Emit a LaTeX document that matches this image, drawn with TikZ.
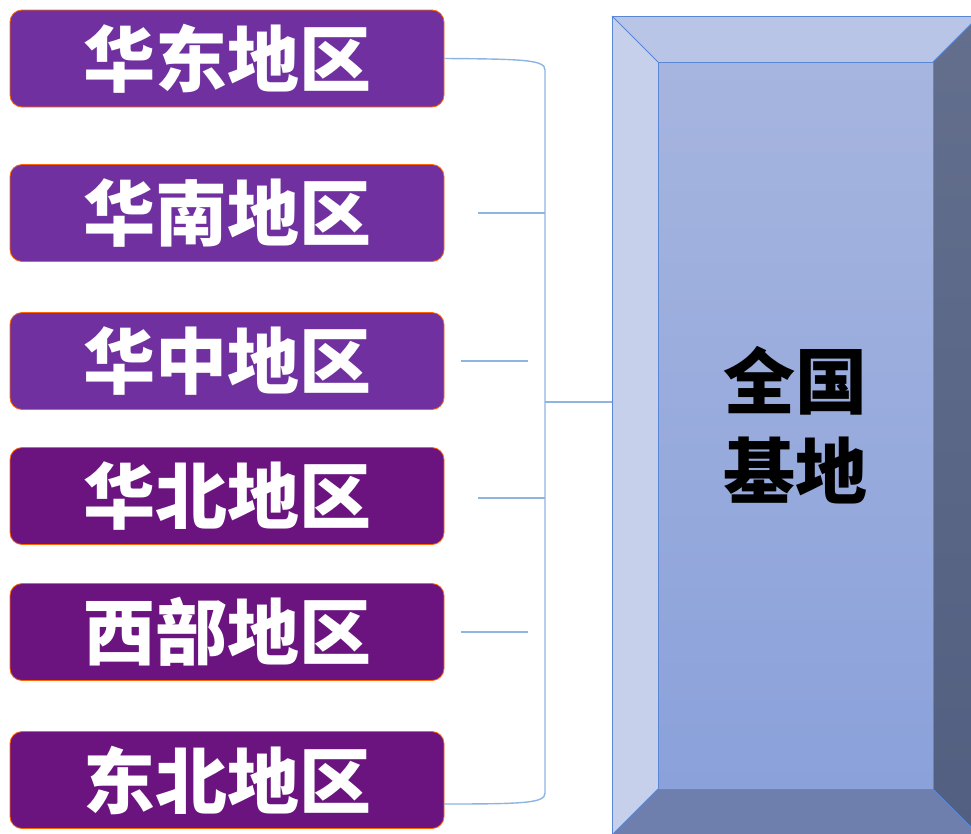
\documentclass[tikz,border=0pt]{standalone}
\usepackage{fontspec}
\newfontfamily\cjk{Noto Sans CJK SC}
\usepackage{tikz}
\usetikzlibrary{positioning}
\definecolor{purpleA}{HTML}{7030A0}
\definecolor{purpleB}{HTML}{6B1480}
\definecolor{linkblue}{HTML}{8DB4E2}
\definecolor{edgeblue}{HTML}{5A86D6}

\begin{document}
\begin{tikzpicture}[x=1pt, y=-1pt,
				region/.style={draw=orange!80!red, line width=0.8pt, rounded corners=12pt,
					minimum width=434pt, minimum height=97pt, inner sep=0pt,
					text=white, font=\cjk\bfseries\fontsize{72}{80}\selectfont},
				link/.style={linkblue, line width=1.4pt},
				bevel/.style={draw=edgeblue, line width=1pt}]
				\useasboundingbox (0,0) rectangle (971,833);
				\clip (0,0) rectangle (971,833);
				% region boxes
				\node at (227,58.5) (east) [region, fill=purpleA] {华东地区};
				\node at (227,213) (south) [region, fill=purpleA] {华南地区};
				\node at (227,361) (central) [region, fill=purpleA] {华中地区};
				\node at (227,496) (north) [region, fill=purpleB] {华北地区};
				\node at (227,632) (west) [region, fill=purpleB] {西部地区};
				\node at (227,780) (northeast) [region, fill=purpleB] {东北地区};
				% bracket
				\coordinate (bt) at (545,70);
				\coordinate (bb) at (545,793);
				\coordinate (bm) at (545,402);
				\coordinate (ne) at (444,804);
				\coordinate (s2) at (478,213);
				\coordinate (s2e) at (545,213);
				\coordinate (s3) at (461,361);
				\coordinate (s3e) at (528,361);
				\coordinate (s4) at (478,498);
				\coordinate (s4e) at (545,498);
				\coordinate (s5) at (461,632);
				\coordinate (s5e) at (528,632);
				\draw[link] (east.east) .. controls (525,59) and (545,60) .. (bt) -- (bb)
					.. controls (545,803) and (525,804) .. (ne);
				\draw[link] (s2) -- (s2e);
				\draw[link] (s3) -- (s3e);
				\draw[link] (s4) -- (s4e);
				\draw[link] (s5) -- (s5e);
				% national base
				\coordinate (o1) at (612,16);
				\coordinate (o2) at (979,16);
				\coordinate (o3) at (979,835);
				\coordinate (o4) at (612,835);
				\coordinate (i1) at (658,62);
				\coordinate (i2) at (933,62);
				\coordinate (i3) at (933,789);
				\coordinate (i4) at (658,789);
				\coordinate (bin) at (612,402);
				\fill[color={rgb,255:red,184;green,197;blue,230}] (o1) -- (o2) -- (i2) -- (i1) -- cycle;
				\fill[color={rgb,255:red,199;green,208;blue,235}] (o1) -- (i1) -- (i4) -- (o4) -- cycle;
				\shade[top color={rgb,255:red,99;green,111;blue,141}, bottom color={rgb,255:red,82;green,95;blue,128}] (o2) -- (o3) -- (i3) -- (i2) -- cycle;
				\fill[color={rgb,255:red,111;green,127;blue,173}] (o4) -- (i4) -- (i3) -- (o3) -- cycle;
				\shade[top color={rgb,255:red,166;green,181;blue,223}, bottom color={rgb,255:red,138;green,161;blue,218}] (i1) rectangle (i3);
				\draw[bevel] (o1) -- (o2) -- (o3) -- (o4) -- cycle;
				\draw[bevel] (i1) -- (i2) -- (i3) -- (i4) -- cycle;
				\draw[bevel] (o1) -- (i1) (o2) -- (i2) (o3) -- (i3) (o4) -- (i4);
				\node at (795,425) (base) [align=center, inner sep=0pt,
					font=\cjk\bfseries\fontsize{72}{90}\selectfont] {全国\\基地};
				\draw[link] (bm) -- (bin);
			\end{tikzpicture}
\end{document}
